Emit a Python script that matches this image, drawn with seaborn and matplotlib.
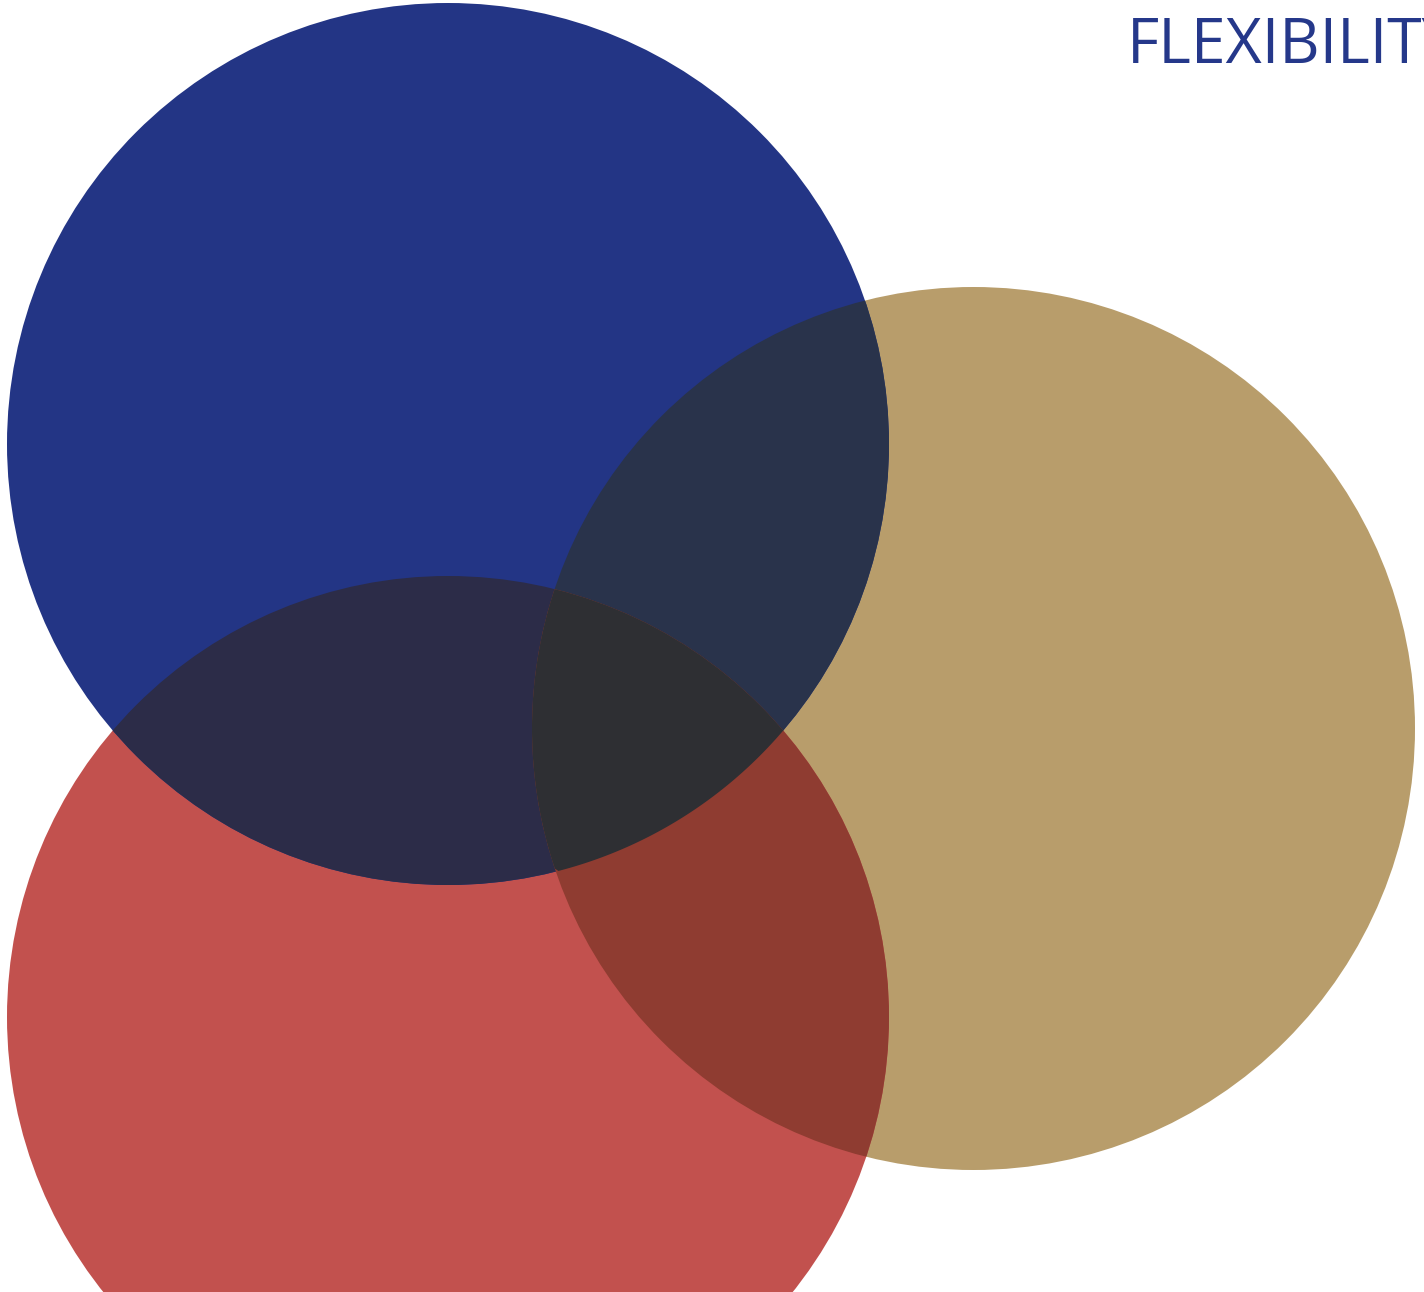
import numpy as np
import seaborn as sns
import matplotlib
matplotlib.use('Agg')
import matplotlib.pyplot as plt
from matplotlib.patches import Circle, Polygon

sns.set_style('white')
plt.rcParams['font.family'] = ['Open Sans', 'DejaVu Sans']

# circles (pixel space of the original picture, y going down)
names = ['blue', 'gold', 'red']
center_x = [448, 973.5, 448]
center_y = [444, 728.5, 1017]
radius = [441, 441.5, 441]
colors = {'blue': '#233585', 'gold': '#B89D6B', 'red': '#C2514E'}

# colours of the overlaps
pair_colors = {('blue', 'gold'): '#29334B',
               ('blue', 'red'): '#2C2C48',
               ('red', 'gold'): '#8F3C31'}
triple_color = '#2E2F33'

label = 'FLEXIBILITY'

fig = plt.figure(figsize=(14.24, 12.92), dpi=100)
ax = fig.add_axes([0, 0, 1, 1])
ax.set_xlim(0, 1424)
ax.set_ylim(1292, 0)
ax.set_aspect('equal')
ax.axis('off')

circ = {n: (x, y, r) for n, x, y, r in zip(names, center_x, center_y, radius)}


def make_circle(n, color, z):
    x, y, r = circ[n]
    return Circle((x, y), r, facecolor=color, edgecolor='none', zorder=z)


# base circles
for n in ['gold', 'red', 'blue']:
    ax.add_patch(make_circle(n, colors[n], 1))

# pairwise overlaps: circle a painted with the overlap colour, clipped to circle b
for (a, b), col in pair_colors.items():
    clip = make_circle(b, 'none', 0)
    ax.add_patch(clip)
    clip.set_visible(False)
    p = make_circle(a, col, 2)
    ax.add_patch(p)
    p.set_clip_path(clip)


# lens of blue and gold, used to clip the red circle for the triple overlap
def lens(a, b, n=720):
    t = np.linspace(0, 2 * np.pi, n, endpoint=False)
    pts = []
    for c in (a, b):
        x, y, r = circ[c]
        pts.append(np.column_stack([x + r * np.cos(t), y + r * np.sin(t)]))
    pts = np.vstack(pts)
    keep = np.ones(len(pts), bool)
    for c in (a, b):
        x, y, r = circ[c]
        keep &= (pts[:, 0] - x) ** 2 + (pts[:, 1] - y) ** 2 <= r ** 2 + 1e-6
    pts = pts[keep]
    cx, cy = pts.mean(axis=0)
    order = np.argsort(np.arctan2(pts[:, 1] - cy, pts[:, 0] - cx))
    return pts[order]


lens_patch = Polygon(lens('blue', 'gold'), closed=True, facecolor='none', edgecolor='none')
ax.add_patch(lens_patch)
lens_patch.set_visible(False)
tri = make_circle('red', triple_color, 3)
ax.add_patch(tri)
tri.set_clip_path(lens_patch)

# the label runs off the right edge, as in the original
ax.text(1127, 63, label, color='#25388A', fontsize=45, fontweight='medium',
        ha='left', va='baseline', clip_on=False, zorder=5)

fig.savefig('out.png', dpi=100, facecolor='white')
